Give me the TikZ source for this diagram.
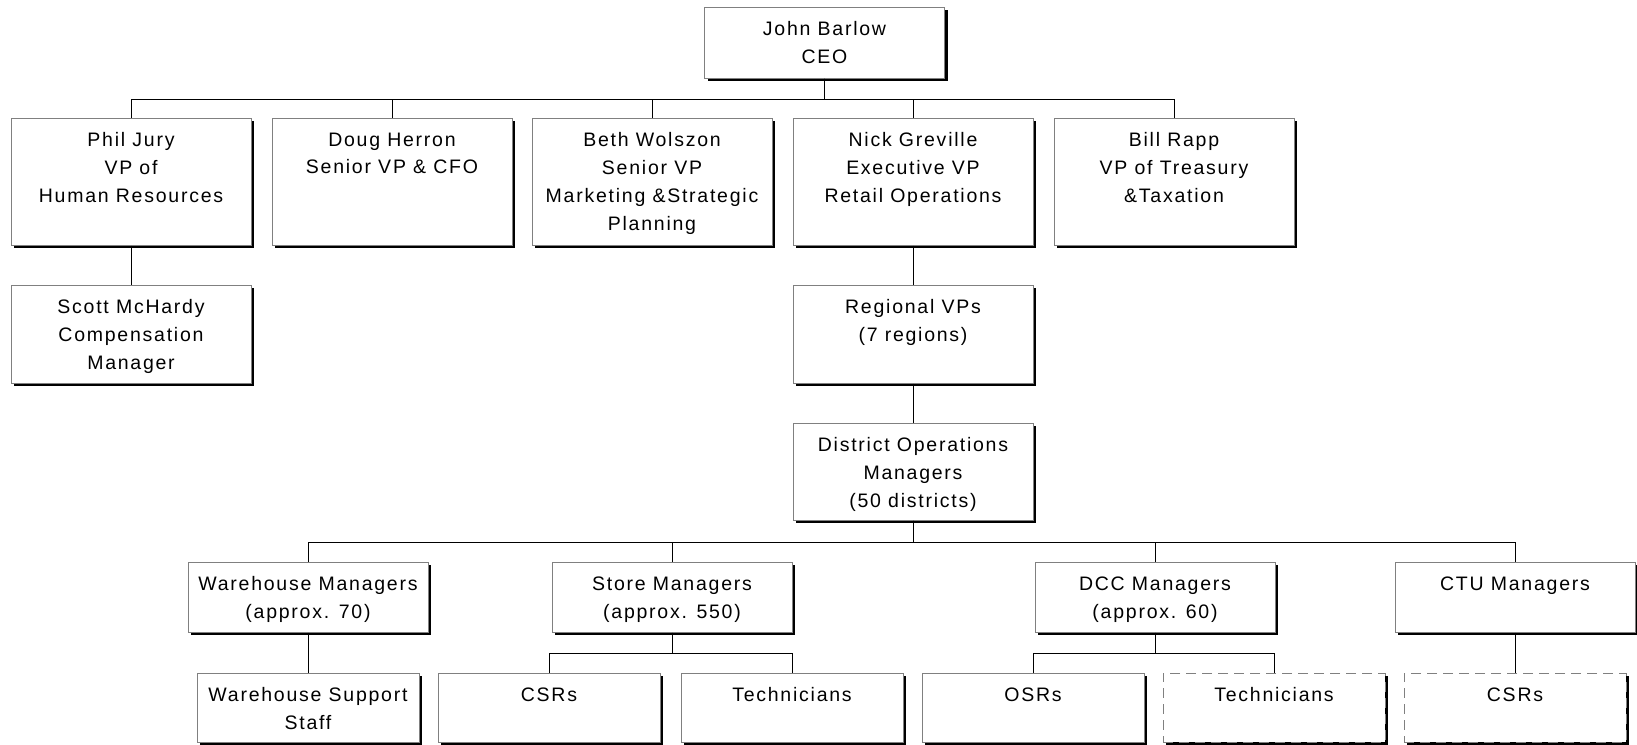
\documentclass[tikz,border=0pt]{standalone}
\usepackage{fontspec}
\usepackage{tikz}
\usetikzlibrary{positioning,shadows}
\newfontfamily\orgfont{Liberation Sans}[LetterSpace=9]
\definecolor{FrameGray}{RGB}{128,128,128}
\tikzset{
	unit/.style={draw=FrameGray,fill=white,line width=0.5pt,inner sep=0pt,minimum width=120pt,
		drop shadow={shadow xshift=1.5pt,shadow yshift=-1.5pt,fill=black,opacity=1}},
	leaf/.style={unit,minimum width=111pt,minimum height=34.5pt},
	dashleaf/.style={leaf,dash pattern=on 5pt off 3pt},
	caption/.style={anchor=north,align=center,inner sep=0pt,yshift=-7.4pt,
		font=\orgfont\fontsize{9.75}{13.9}\selectfont},
	link/.style={draw=black,line width=0.5pt},
}
\begin{document}
\begin{tikzpicture}[x=0.5pt,y=-0.5pt]
	\useasboundingbox (0,0) rectangle (1637,744);
	\node[unit,minimum height=35.5pt,label={[caption]north:{John Barlow\\CEO}}] (ceo) at (824.5,42.5) {};
	% vice presidents
	\foreach \nm/\cx/\txt in {phil/131/{Phil Jury\\VP of\\Human Resources},
		doug/392/{Doug Herron\\Senior VP \& CFO},
		beth/652/{Beth Wolszon\\Senior VP\\Marketing \&Strategic\\Planning},
		nick/913/{Nick Greville\\Executive VP\\Retail Operations},
		bill/1174/{Bill Rapp\\VP of Treasury\\\&Taxation}}
	\node[unit,minimum height=63.5pt,label={[caption]north:\txt}] (\nm) at (\cx,181.5) {};
	\node[unit,minimum height=49pt,label={[caption]north:{Scott McHardy\\Compensation\\Manager}}] (scott) at (131,334) {};
	\node[unit,minimum height=49pt,label={[caption]north:{Regional VPs\\(7 regions)}}] (region) at (913,334) {};
	\node[unit,minimum height=48.5pt,label={[caption]north:{District Operations\\Managers\\(50 districts)}}] (district) at (913,471.5) {};
	% managers under the districts
	\foreach \nm/\cx/\txt in {whmgr/308/{Warehouse Managers\\(approx. 70)},
		storemgr/672/{Store Managers\\(approx. 550)},
		dccmgr/1155/{DCC Managers\\(approx. 60)},
		ctumgr/1515/{CTU Managers}}
	\node[unit,minimum height=35pt,label={[caption]north:\txt}] (\nm) at (\cx,597) {};
	% staff
	\node[leaf,label={[caption]north:{Warehouse Support\\Staff}}] (whstaff) at (308,707.5) {};
	\node[leaf,label={[caption]north:CSRs}] (storecsr) at (549,707.5) {};
	\node[leaf,label={[caption]north:Technicians}] (storetech) at (792,707.5) {};
	\node[leaf,label={[caption]north:OSRs}] (dccosr) at (1033,707.5) {};
	\node[dashleaf,label={[caption]north:Technicians}] (dcctech) at (1274,707.5) {};
	\node[dashleaf,label={[caption]north:CSRs}] (ctucsr) at (1515,707.5) {};
	% connectors
	\foreach \c in {phil,doug,beth,nick,bill}
	\draw[link] (ceo.south) -- ++(0,21) -| (\c.north);
	\draw[link] (phil.south) -- (scott.north);
	\draw[link] (nick.south) -- (region.north);
	\draw[link] (region.south) -- (district.north);
	\foreach \c in {whmgr,storemgr,dccmgr,ctumgr}
	\draw[link] (district.south) -- ++(0,22) -| (\c.north);
	\draw[link] (whmgr.south) -- (whstaff.north);
	\foreach \c in {storecsr,storetech}
	\draw[link] (storemgr.south) -- ++(0,21) -| (\c.north);
	\foreach \c in {dccosr,dcctech}
	\draw[link] (dccmgr.south) -- ++(0,21) -| (\c.north);
	\draw[link] (ctumgr.south) -- (ctucsr.north);
\end{tikzpicture}
\end{document}
